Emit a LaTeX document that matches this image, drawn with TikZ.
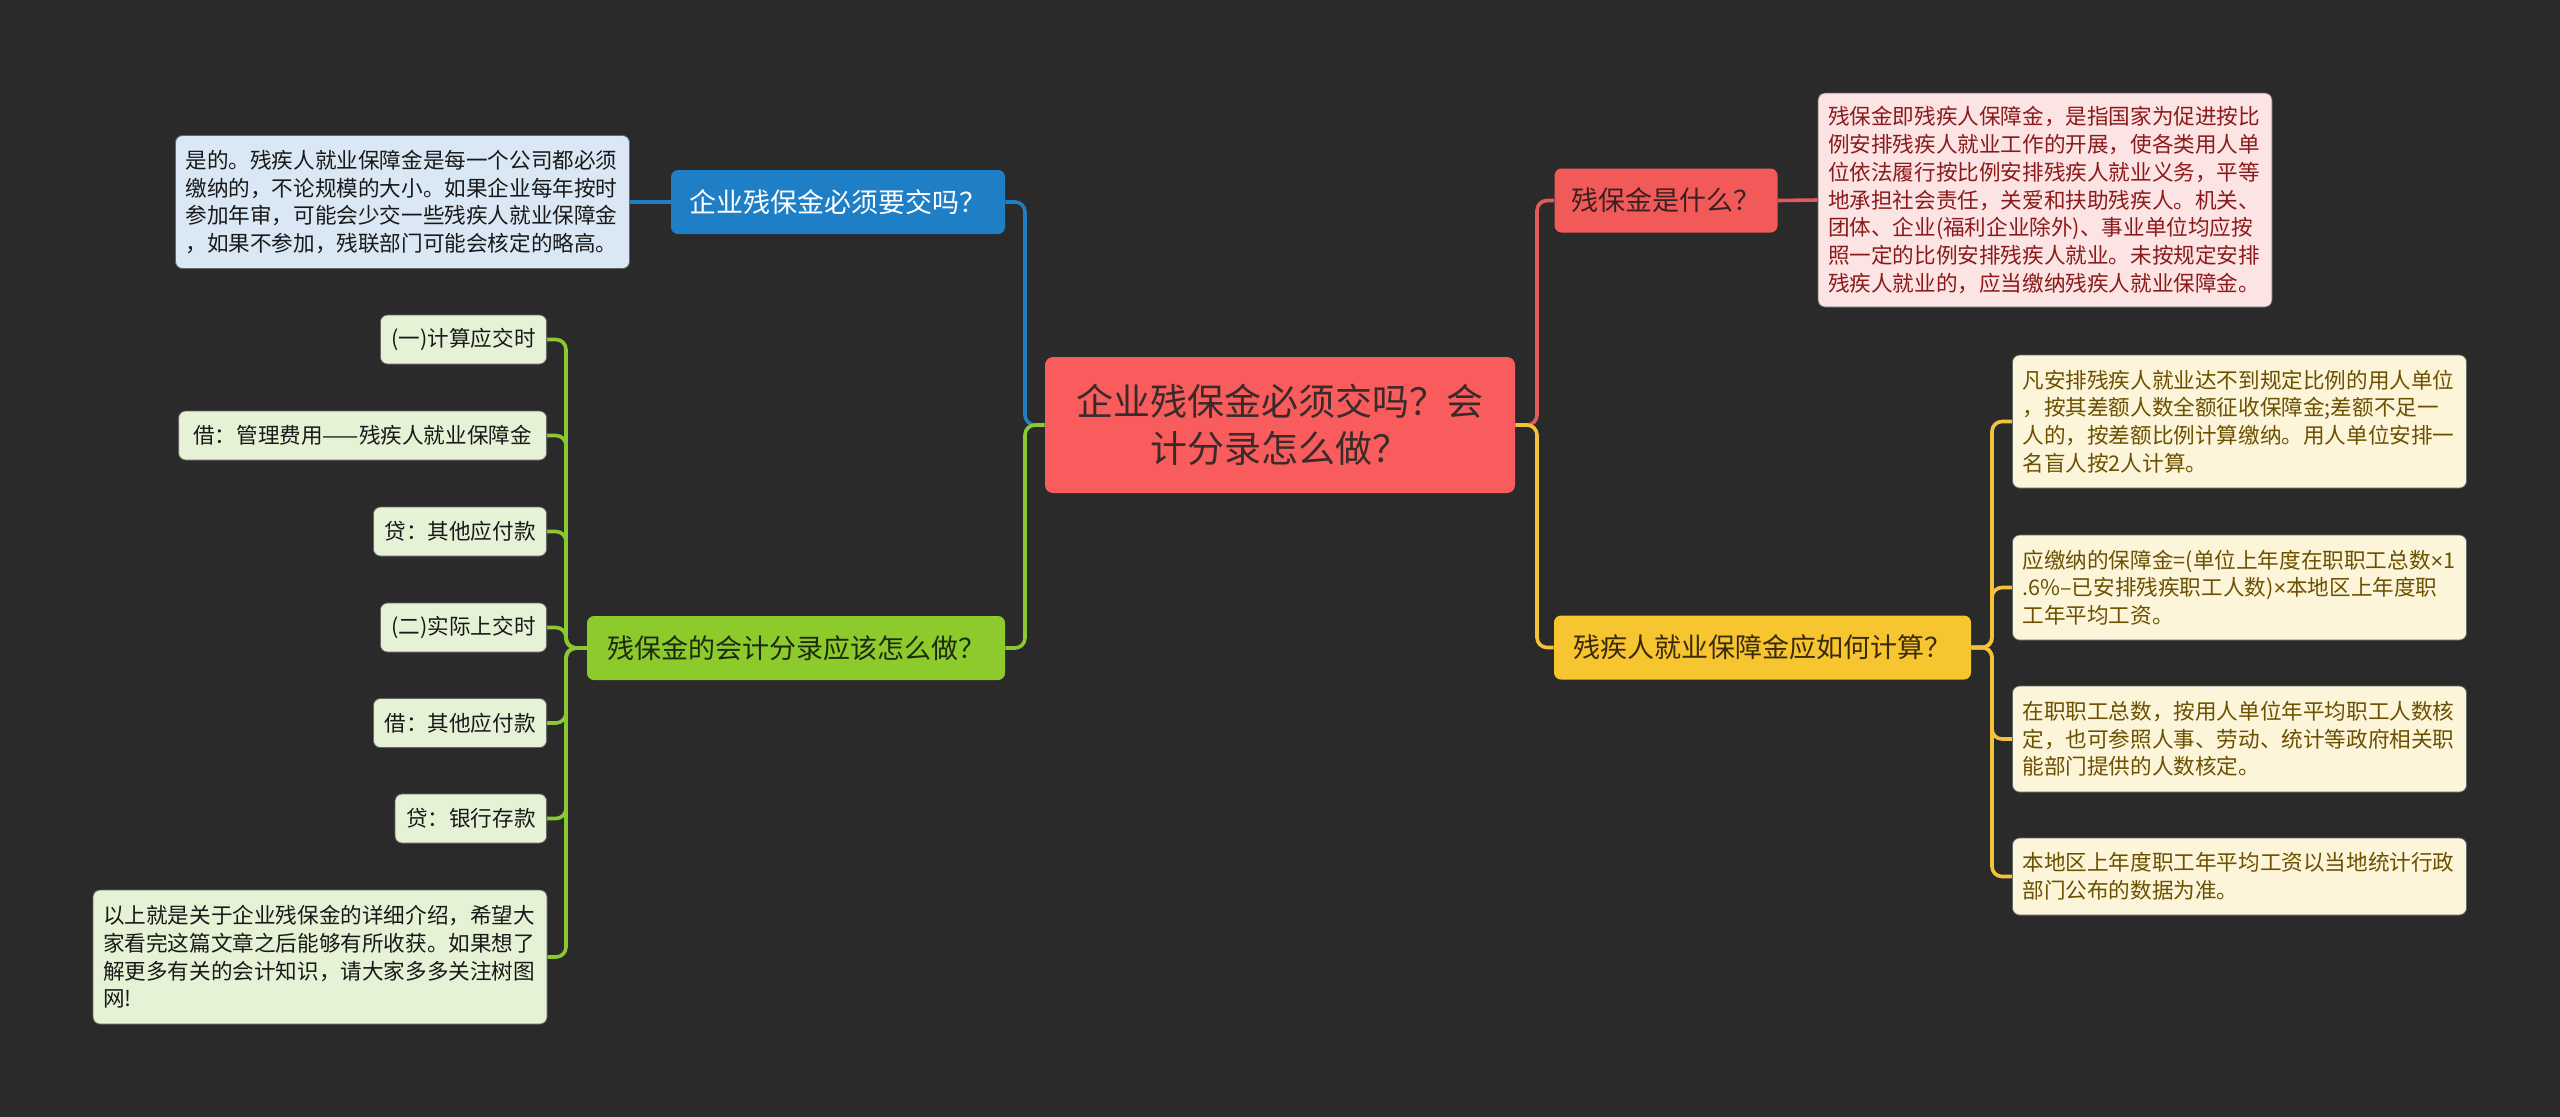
\documentclass[tikz,border=0pt]{standalone}
\usepackage{fontspec}
\usetikzlibrary{backgrounds}
\newfontfamily\cjk{Noto Sans CJK SC}
\newfontfamily\lat{Liberation Sans}
\newcommand{\tms}{{\lat ×}}
\definecolor{bg}{HTML}{2A2A2A}
\definecolor{cfill}{HTML}{F85C5C}
\definecolor{ctext}{HTML}{3A2A2A}
\definecolor{bfill}{HTML}{1F7FC6}
\definecolor{blfill}{HTML}{D9E8F4}
\definecolor{rfill}{HTML}{F25A5A}
\definecolor{rtext}{HTML}{3A2020}
\definecolor{rlfill}{HTML}{FDE4E4}
\definecolor{rltext}{HTML}{8B1A1A}
\definecolor{yfill}{HTML}{F7C530}
\definecolor{ytext}{HTML}{3A2A0A}
\definecolor{ylfill}{HTML}{FDF5DA}
\definecolor{yltext}{HTML}{6B5000}
\definecolor{gfill}{HTML}{8CCB2B}
\definecolor{gtext}{HTML}{1E2A0E}
\definecolor{glfill}{HTML}{E6F2D6}
\definecolor{bline}{HTML}{1F7FC6}
\definecolor{rline}{HTML}{E25A5A}
\definecolor{yline}{HTML}{F2C23A}
\definecolor{gline}{HTML}{8CC832}
\begin{document}
\begin{tikzpicture}[x=0.5pt,y=-0.5pt,
  every node/.style={font=\cjk},
  mainbox/.style={rounded corners=3.5pt, inner sep=0pt, align=center, minimum height=32pt,
    font=\cjk\fontsize{13.5pt}{16pt}\selectfont},
  centerbox/.style={rounded corners=4pt, inner sep=0pt, align=center, fill=cfill, text=ctext,
    minimum width=235pt, minimum height=68pt, font=\cjk\fontsize{18.5pt}{23.5pt}\selectfont},
  leafbox/.style={rounded corners=3.5pt, inner xsep=5pt, inner ysep=0pt, align=left, text width=217pt,
    draw=black!60, line width=0.4pt, font=\cjk\fontsize{10.8pt}{13.85pt}\selectfont},
  smallleaf/.style={rounded corners=3.5pt, inner xsep=5.5pt, inner ysep=0pt, minimum height=24.5pt,
    fill=glfill, text=black!90, draw=black!60, line width=0.4pt, anchor=east,
    font=\cjk\fontsize{10.8pt}{13.85pt}\selectfont},
  conn/.style={line width=1.8pt, rounded corners=5pt}
]
\path[use as bounding box] (0,0) rectangle (2560,1116);

% nodes
\node[centerbox] (c) at (1280,425) {企业残保金必须交吗？会\\计分录怎么做？};

\node[mainbox, fill=bfill, text=white, minimum width=167pt] (b) at (838,202) {企业残保金必须要交吗？};
\node[leafbox, fill=blfill, text=black!90, minimum height=66.5pt] (bl) at (402.5,202)
 {是的。残疾人就业保障金是每一个公司都必须\\缴纳的，不论规模的大小。如果企业每年按时\\参加年审，可能会少交一些残疾人就业保障金\\，如果不参加，残联部门可能会核定的略高。};

\node[mainbox, fill=rfill, text=rtext, minimum width=111.5pt] (r) at (1666,200.5) {残保金是什么？};
\node[leafbox, fill=rlfill, text=rltext, minimum height=107pt] (rl) at (2045,200)
 {残保金即残疾人保障金，是指国家为促进按比\\例安排残疾人就业工作的开展，使各类用人单\\位依法履行按比例安排残疾人就业义务，平等\\地承担社会责任，关爱和扶助残疾人。机关、\\团体、企业(福利企业除外)、事业单位均应按\\照一定的比例安排残疾人就业。未按规定安排\\残疾人就业的，应当缴纳残疾人就业保障金。};

\node[mainbox, fill=yfill, text=ytext, minimum width=208.5pt] (y) at (1762.5,647.5) {残疾人就业保障金应如何计算？};
\node[leafbox, fill=ylfill, text=yltext, minimum height=66.5pt] (y1) at (2239.5,421.5)
 {凡安排残疾人就业达不到规定比例的用人单位\\，按其差额人数全额征收保障金;差额不足一\\人的，按差额比例计算缴纳。用人单位安排一\\名盲人按2人计算。};
\node[leafbox, fill=ylfill, text=yltext, minimum height=52.5pt] (y2) at (2239.5,587.5)
 {应缴纳的保障金=(单位上年度在职职工总数\tms{}1\\.6\%–已安排残疾职工人数)\tms{}本地区上年度职\\工年平均工资。};
\node[leafbox, fill=ylfill, text=yltext, minimum height=53pt] (y3) at (2239.5,739)
 {在职职工总数，按用人单位年平均职工人数核\\定，也可参照人事、劳动、统计等政府相关职\\能部门提供的人数核定。};
\node[leafbox, fill=ylfill, text=yltext, minimum height=38.5pt] (y4) at (2239.5,876.5)
 {本地区上年度职工年平均工资以当地统计行政\\部门公布的数据为准。};

\node[mainbox, fill=gfill, text=gtext, minimum width=209pt] (g) at (796,648) {残保金的会计分录应该怎么做？};
\node[smallleaf, minimum width=82.5pt] (g1) at (547,339.5) {(一)计算应交时};
\node[smallleaf, minimum width=184pt] (g2) at (547,435.5) {借：管理费用——残疾人就业保障金};
\node[smallleaf, minimum width=86.5pt] (g3) at (547,531.5) {贷：其他应付款};
\node[smallleaf, minimum width=82.5pt] (g4) at (547,627.5) {(二)实际上交时};
\node[smallleaf, minimum width=86.5pt] (g5) at (547,723) {借：其他应付款};
\node[smallleaf, minimum width=75.5pt] (g6) at (547,818.5) {贷：银行存款};
\node[leafbox, fill=glfill, text=black!90, minimum height=67pt] (g7) at (320,957)
 {以上就是关于企业残保金的详细介绍，希望大\\家看完这篇文章之后能够有所收获。如果想了\\解更多有关的会计知识，请大家多多关注树图\\网!};

% background and connectors
\begin{scope}[on background layer]
\fill[bg] (-10,-10) rectangle (2570,1126);
\draw[conn, bline] (c.west) -- (1025,425) |- (b.east);
\draw[conn, bline] (b.west) -- (bl.east);
\draw[conn, gline] (c.west) -- (1025,425) |- (g.east);
\draw[conn, rline] (c.east) -- (1537,425) |- (r.west);
\draw[conn, rline] (r.east) -- (rl.west);
\draw[conn, yline] (c.east) -- (1537,425) |- (y.west);
\foreach \t in {y1,y2,y3,y4} \draw[conn, yline] (y.east) -- (1992,647.5) |- (\t.west);
\foreach \t in {g1,g2,g3,g4,g5,g6,g7} \draw[conn, gline] (g.west) -- (566,648) |- (\t.east);
\end{scope}
\end{tikzpicture}
\end{document}
